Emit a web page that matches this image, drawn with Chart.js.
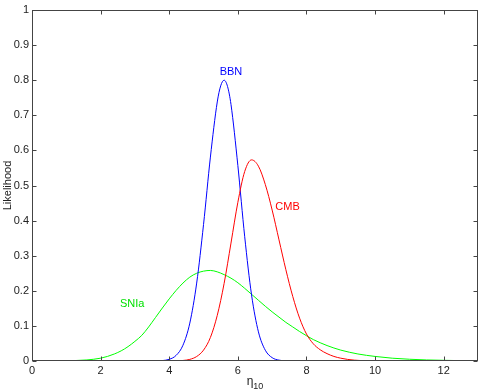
<!DOCTYPE html>
<html>
<head>
<meta charset="utf-8">
<script src="https://cdn.jsdelivr.net/npm/chart.js@4/dist/chart.umd.min.js"></script>
<style>
  html, body { margin: 0; padding: 0; background: #fff; }
  #wrap { width: 482px; height: 392px; }
</style>
</head>
<body>
<div id="wrap"><canvas id="likelihoodChart" width="482" height="392"></canvas></div>
<script>
// tick values
const xTicks = [0, 2, 4, 6, 8, 10, 12];

// BBN curve
const bbnX = [3.6, 3.8, 4.0, 4.2, 4.4, 4.6, 4.8, 5.0, 5.2, 5.4, 5.5, 5.6, 5.7, 5.8, 6.0, 6.2, 6.4, 6.6, 6.8, 7.0, 7.2, 7.4, 7.6, 8.0, 9.4];
const bbnY = [0.0003, 0.0012, 0.0048, 0.0159, 0.0449, 0.108, 0.222, 0.389, 0.581, 0.738, 0.784, 0.8, 0.782, 0.731, 0.557, 0.354, 0.188, 0.083, 0.0307, 0.0095, 0.0024, 0.0005, 0.0001, 0, 0];

// CMB curve
const cmbX = [0, 4.0, 4.2, 4.4, 4.6, 4.8, 5.0, 5.2, 5.4, 5.6, 5.8, 6.0, 6.2, 6.4, 6.6, 6.8, 7.0, 7.2, 7.4, 7.6, 7.8, 8.0, 8.2, 8.4, 8.6, 8.8, 9.0, 9.2, 9.4, 9.6, 9.8, 10.0, 13];
const cmbY = [0, 0.0001, 0.0004, 0.0015, 0.0046, 0.0128, 0.031, 0.067, 0.130, 0.221, 0.336, 0.452, 0.540, 0.573, 0.555, 0.503, 0.430, 0.345, 0.260, 0.184, 0.122, 0.077, 0.049, 0.032, 0.021, 0.013, 0.008, 0.0045, 0.0024, 0.0012, 0.0005, 0.0002, 0];

// SNIa curve
const snX = [1.0, 1.2, 1.4, 1.6, 1.8, 2.0, 2.2, 2.4, 2.6, 2.8, 3.0, 3.2, 3.4, 3.6, 3.8, 4.0, 4.2, 4.4, 4.6, 4.8, 5.0, 5.2, 5.4, 5.6, 5.8, 6.0, 6.2, 6.4, 6.6, 6.8, 7.0, 7.2, 7.4, 7.6, 7.8, 8.0, 8.2, 8.4, 8.6, 8.8, 9.0, 9.5, 10.0, 10.5, 11.0, 11.5, 12.0, 12.5, 13.0];
const snY = [0.0005, 0.001, 0.002, 0.003, 0.005, 0.008, 0.013, 0.020, 0.029, 0.041, 0.056, 0.073, 0.097, 0.124, 0.151, 0.177, 0.201, 0.222, 0.239, 0.250, 0.256, 0.258, 0.254, 0.246, 0.236, 0.223, 0.207, 0.190, 0.173, 0.156, 0.140, 0.125, 0.110, 0.097, 0.084, 0.072, 0.061, 0.052, 0.044, 0.037, 0.031, 0.020, 0.013, 0.008, 0.005, 0.003, 0.002, 0.001, 0.0005];

// curve labels (text, x, y, colour)
const curveLabels = [
  { text: 'BBN', x: 5.8, y: 0.823, color: '#0000ff' },
  { text: 'CMB', x: 7.45, y: 0.44, color: '#ff0000' },
  { text: 'SNIa', x: 2.92, y: 0.162, color: '#00e000' }
];

const FONT = '"Liberation Sans", Arial, Helvetica, sans-serif';
Chart.defaults.font.family = FONT;

function toPoints(xs, ys) {
  return xs.map((x, i) => ({ x: x, y: ys[i] }));
}

// box with inward ticks, curve labels and axis titles
const matlabAxes = {
  id: 'matlabAxes',
  afterDraw(chart) {
    const { ctx, chartArea: a, scales: { x, y } } = chart;
    const L = Math.round(a.left) + 0.5, R = Math.round(a.right) - 0.5;
    const T = Math.round(a.top) + 0.5, B = Math.round(a.bottom) - 0.5;
    ctx.save();
    ctx.strokeStyle = '#444';
    ctx.lineWidth = 1;
    ctx.strokeRect(L, T, R - L, B - T);
    ctx.beginPath();
    xTicks.forEach(v => {
      const px = Math.round(x.getPixelForValue(v)) + 0.5;
      ctx.moveTo(px, B); ctx.lineTo(px, B - 4);
      ctx.moveTo(px, T); ctx.lineTo(px, T + 4);
    });
    for (let i = 0; i <= 10; i++) {
      const py = Math.round(y.getPixelForValue(i / 10)) + 0.5;
      ctx.moveTo(L, py); ctx.lineTo(L + 4, py);
      ctx.moveTo(R, py); ctx.lineTo(R - 4, py);
    }
    ctx.stroke();

    // labels next to the curves
    ctx.font = '11px ' + FONT;
    ctx.textAlign = 'center';
    ctx.textBaseline = 'middle';
    curveLabels.forEach(l => {
      ctx.fillStyle = l.color;
      ctx.fillText(l.text, x.getPixelForValue(l.x), y.getPixelForValue(l.y));
    });

    // x title: eta with subscript 10
    ctx.fillStyle = '#222';
    ctx.textBaseline = 'alphabetic';
    ctx.textAlign = 'left';
    ctx.font = '12px ' + FONT;
    const wEta = ctx.measureText('\u03b7').width;
    ctx.font = '9px ' + FONT;
    const wSub = ctx.measureText('10').width;
    const cx = (a.left + a.right) / 2;
    const x0 = cx - (wEta + wSub) / 2;
    ctx.font = '12px ' + FONT;
    ctx.fillText('\u03b7', x0, 385);
    ctx.font = '9px ' + FONT;
    ctx.fillText('10', x0 + wEta, 389);

    // y title
    ctx.font = '11px ' + FONT;
    ctx.textAlign = 'center';
    ctx.textBaseline = 'middle';
    ctx.translate(8, (a.top + a.bottom) / 2);
    ctx.rotate(-Math.PI / 2);
    ctx.fillText('Likelihood', 0, 0);
    ctx.restore();
  }
};

const ctx = document.getElementById('likelihoodChart').getContext('2d');
new Chart(ctx, {
  type: 'line',
  data: {
    datasets: [
      { label: 'CMB', data: toPoints(cmbX, cmbY), borderColor: '#ff0000', order: 1 },
      { label: 'BBN', data: toPoints(bbnX, bbnY), borderColor: '#0000ff', order: 2 },
      { label: 'SNIa', data: toPoints(snX, snY), borderColor: '#00ff00', order: 3 }
    ]
  },
  options: {
    responsive: false,
    animation: false,
    devicePixelRatio: 1,
    layout: { padding: { top: 10, right: 4, left: 0, bottom: 0 } },
    elements: {
      point: { radius: 0 },
      line: { borderWidth: 1, cubicInterpolationMode: 'monotone', fill: false }
    },
    plugins: {
      legend: { display: false },
      tooltip: { enabled: false }
    },
    scales: {
      x: {
        type: 'linear',
        min: 0,
        max: 13,
        grid: { display: false, drawTicks: false },
        border: { display: false },
        ticks: { color: '#222', font: { size: 11 }, padding: 3 },
        afterBuildTicks: scale => { scale.ticks = xTicks.map(v => ({ value: v })); },
        afterFit: scale => { scale.height = 31; }
      },
      y: {
        min: 0,
        max: 1,
        grid: { display: false, drawTicks: false },
        border: { display: false },
        ticks: {
          color: '#222',
          font: { size: 11 },
          padding: 3,
          stepSize: 0.1,
          callback: v => String(Number(v.toFixed(1)))
        },
        afterFit: scale => { scale.width = 32; }
      }
    }
  },
  plugins: [matlabAxes]
});
</script>
</body>
</html>
